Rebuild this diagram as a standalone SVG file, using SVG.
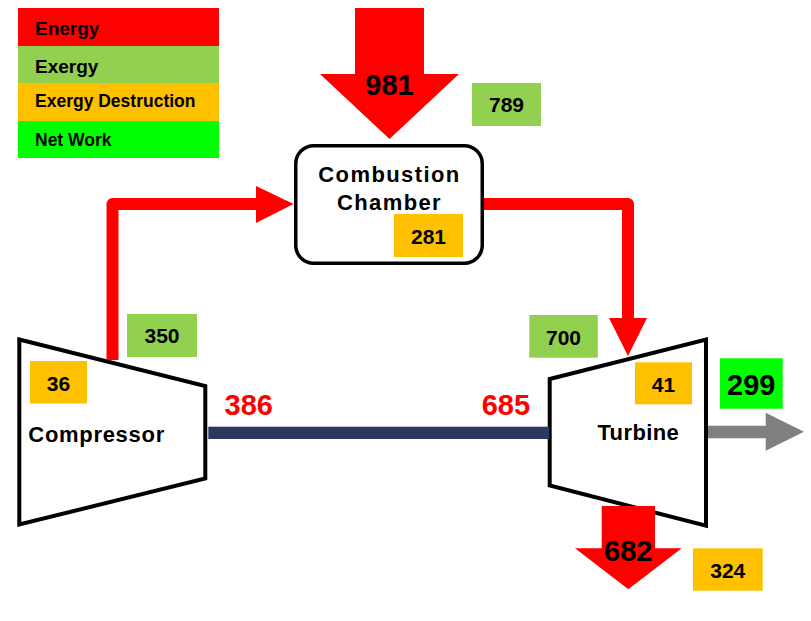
<svg xmlns="http://www.w3.org/2000/svg" width="811" height="621" viewBox="0 0 811 621">
<style>
text{font-family:"Liberation Sans",Arial,sans-serif;font-weight:bold;fill:#000}
.lg{font-size:19px}
.lg2{font-size:17.5px}
.val{font-size:21px;text-anchor:middle}
.big{font-size:29px;text-anchor:middle}
.red{fill:#FF0000}
.nm{font-size:22px}
.eg{fill:#92D050}
.ed{fill:#FFC000}
.nw{fill:#00FF00}
.en{fill:#FF0000}
.pipe{fill:none;stroke:#FF0000;stroke-width:12;stroke-linejoin:round}
.body{fill:#fff;stroke:#000;stroke-width:4;stroke-linejoin:miter}
</style>
<rect width="811" height="621" fill="#fff"/>
<g id="legend">
<rect class="en" x="18" y="8" width="201" height="38"/>
<rect class="eg" x="18" y="46" width="201" height="37"/>
<rect class="ed" x="18" y="83" width="201" height="38"/>
<rect class="nw" x="18" y="121" width="201" height="37"/>
<text class="lg" x="35" y="35">Energy</text>
<text class="lg" x="35" y="72.7">Exergy</text>
<text class="lg2" x="35" y="107.3">Exergy Destruction</text>
<text class="lg2" x="35" y="145.7">Net Work</text>
</g>
<g id="fuel-input">
<polygon class="en" points="355,8 424,8 424,74 459,74 389.5,139 320,74 355,74"/>
<text class="big" x="389.5" y="95">981</text>
<rect class="eg" x="472" y="83" width="69" height="43"/>
<text class="val" x="506.5" y="112">789</text>
</g>
<g id="combustion-chamber">
<rect x="295.75" y="145.75" width="186.5" height="117.5" rx="18" fill="#fff" stroke="#000" stroke-width="3.5"/>
<text class="nm" x="389.5" y="181.7" text-anchor="middle" letter-spacing="1.4">Combustion</text>
<text class="nm" x="389.5" y="210" text-anchor="middle" letter-spacing="1.4">Chamber</text>
<rect class="ed" x="394" y="214" width="69" height="43"/>
<text class="val" x="428.5" y="244.3">281</text>
</g>
<g id="compressor">
<polygon class="body" points="19.3,339.5 205.3,386 205.3,478.5 19.3,524.5"/>
<text class="nm" x="28.3" y="441.7" letter-spacing="0.7">Compressor</text>
<rect class="ed" x="30" y="361" width="57" height="42.5"/>
<text class="val" x="58.5" y="390.7">36</text>
<rect class="eg" x="127" y="314" width="70" height="43"/>
<text class="val" x="162" y="343.3">350</text>
</g>
<g id="turbine">
<polygon class="body" points="549.7,379 706,339.5 706,525.7 549.7,485.5"/>
<text class="nm" x="638.3" y="440" text-anchor="middle" letter-spacing="0.4">Turbine</text>
<rect class="ed" x="635" y="362.3" width="57" height="42"/>
<text class="val" x="663.5" y="391.7">41</text>
<rect class="eg" x="529.3" y="315" width="68.5" height="42.7"/>
<text class="val" x="563.5" y="344.7">700</text>
</g>
<g id="connectors">
<path class="pipe" d="M112.5,360 V204 H258"/>
<polygon class="en" points="256,186 293.5,204 256,223"/>
<path class="pipe" d="M484,204 H628 V320"/>
<polygon class="en" points="609,318 647,318 628,356"/>
<rect x="208.3" y="426.7" width="341" height="12.3" fill="#2B3960"/>
<polygon fill="#808080" points="708,425.7 765.7,425.7 765.7,412.7 804,431.7 765.7,450.7 765.7,438.3 708,438.3"/>
<polygon class="en" points="601.7,506 655,506 655,548.3 681.7,548.3 628.3,589.3 575,548.3 601.7,548.3"/>
</g>
<g id="labels">
<text class="big red" x="248.7" y="415">386</text>
<text class="big red" x="505.9" y="415">685</text>
<rect class="nw" x="720" y="358.3" width="62.7" height="50.4"/>
<text class="big" x="751.3" y="395">299</text>
<text class="big" x="628.3" y="561">682</text>
<rect class="ed" x="693" y="548.3" width="69.7" height="42.4"/>
<text class="val" x="727.8" y="578.3">324</text>
</g>
</svg>
